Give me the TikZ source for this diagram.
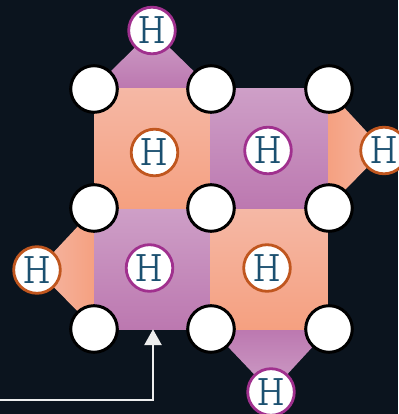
\documentclass[tikz,border=0pt]{standalone}
\usepackage{xcolor}
\usepackage{graphicx}
\usepackage{tikz}
\usetikzlibrary{arrows.meta,positioning}
\definecolor{bgdark}{HTML}{0B141E}
\definecolor{peachlight}{HTML}{F5B8A5}
\definecolor{peachdark}{HTML}{F5A080}
\definecolor{mauvelight}{HTML}{CE9FC7}
\definecolor{mauvedark}{HTML}{BC78B0}
\definecolor{ringorange}{HTML}{C0561E}
\definecolor{ringpurple}{HTML}{A0308E}
\definecolor{letterblue}{HTML}{1B5070}
\newcommand{\atomletter}{\scalebox{1.18}[1]{H}}
\tikzset{
  peachsquare/.style={
    draw=none, inner sep=0pt, minimum width=117pt, minimum height=120pt,
    top color=peachlight, bottom color=peachdark
  },
  mauvesquare/.style={
    draw=none, inner sep=0pt, minimum width=117pt, minimum height=120pt,
    top color=mauvelight, bottom color=mauvedark
  },
  vertex/.style={circle, draw=black, line width=3pt, fill=white, inner sep=0pt, minimum size=46.6pt},
  atom/.style={
    circle, line width=2.8pt, fill=white, inner sep=0pt, minimum size=46.6pt,
    text=letterblue, font=\fontsize{44}{44}\selectfont\ttfamily\fontseries{l}\selectfont
  },
  atomorange/.style={atom, draw=ringorange},
  atompurple/.style={atom, draw=ringpurple},
  pointer/.style={draw=white!93!black, line width=2.8pt, -{Triangle[length=16pt,width=17pt]}}
}

\begin{document}
\begin{tikzpicture}[x=1pt,y=-1pt]
\useasboundingbox (0,0) rectangle (398,414);
\fill[bgdark] (0,0) rectangle (398,414);

% corners of the grid
\coordinate (p11) at (94,89);
\coordinate (p12) at (211,89);
\coordinate (p13) at (329,89);
\coordinate (p21) at (94,208);
\coordinate (p22) at (211,208);
\coordinate (p23) at (329,208);
\coordinate (p31) at (94,329);
\coordinate (p32) at (211,329);
\coordinate (p33) at (329,329);

% outer atoms
\coordinate (top) at (152,30.5);
\coordinate (right) at (384,150.5);
\coordinate (left) at (37,270);
\coordinate (bottom) at (271,392);

% triangles
\shade[top color=mauvelight, bottom color=mauvedark] (top) -- (94,88) -- (211,88) -- cycle;
\shade[left color=peachdark, right color=peachlight] (right) -- (327,89) -- (327,208) -- cycle;
\shade[left color=peachlight, right color=peachdark] (left) -- (95,208) -- (95,329) -- cycle;
\shade[top color=mauvedark, bottom color=mauvelight] (bottom) -- (211,329) -- (329,329) -- cycle;

% squares
\node[peachsquare] (sqa) at (152.5,148.5) {};
\node[mauvesquare] (sqb) at (269,149) {};
\node[mauvesquare] (sqc) at (153,269) {};
\node[peachsquare] (sqd) at (269,269.5) {};

% arrow
\coordinate (start) at (0,400);
\draw[pointer] (start) -| (sqc.south);

% vertices
\node[vertex] (a) at (p11) {};
\node[vertex] (b) at (p12) {};
\node[vertex] (c) at (p13) {};
\node[vertex] (d) at (p21) {};
\node[vertex] (e) at (p22) {};
\node[vertex] (f) at (p23) {};
\node[vertex] (g) at (p31) {};
\node[vertex] (h) at (p32) {};
\node[vertex] (i) at (p33) {};

% atoms
\node[atompurple] (atop) at (top) {\atomletter};
\node[atomorange] (aright) at (right) {\atomletter};
\node[atomorange] (aleft) at (left) {\atomletter};
\node[atompurple] (abottom) at (bottom) {\atomletter};
\node[atomorange] (asqa) at (154.5,152.5) {\atomletter};
\node[atompurple] (asqb) at (268,150.5) {\atomletter};
\node[atompurple] (asqc) at (149.5,268) {\atomletter};
\node[atomorange] (asqd) at (267,268) {\atomletter};

\end{tikzpicture}
\end{document}
